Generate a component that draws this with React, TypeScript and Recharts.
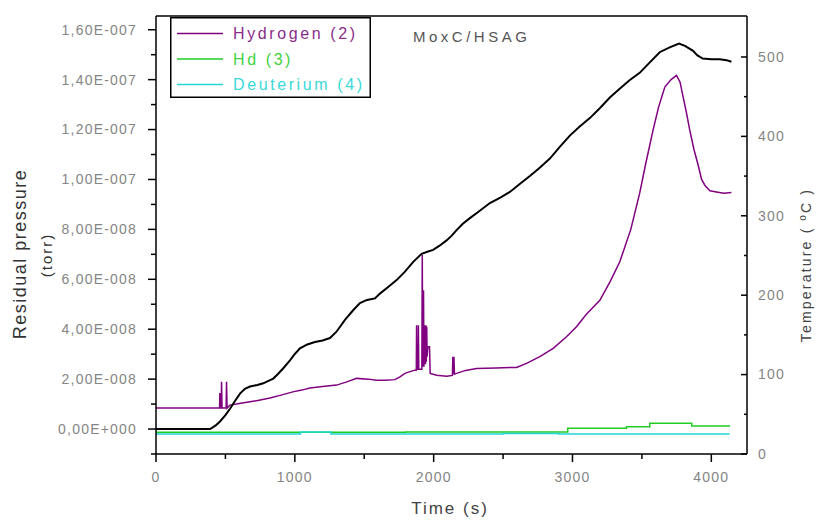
import React from 'react'
import {LineChart, Line, XAxis, YAxis, Legend, ReferenceLine} from 'recharts'

const FONT = '"Liberation Sans", Arial, sans-serif'

// temperature (ºC) -> right axis
const tempTime = [
  0, 200, 390, 430, 461, 500, 533, 570, 605, 640, 677, 730, 773, 810, 845, 880, 917, 965, 1000, 1037, 1090, 1145,
  1200, 1253, 1300, 1361, 1420, 1469, 1520, 1577, 1613, 1670, 1733, 1790, 1853, 1913, 1960, 1996, 2040, 2093, 2130,
  2165, 2210, 2261, 2330, 2405, 2480, 2549, 2620, 2693, 2760, 2837, 2910, 2981, 3050, 3125, 3200, 3269, 3340, 3413,
  3484, 3550, 3628, 3700, 3767, 3810, 3866, 3900, 3938, 4000, 4060, 4110, 4145,
]
const tempValue = [
  31.5, 31.5, 31.5, 36, 41, 49, 57, 67, 76, 82, 85, 87, 89, 92, 95, 101, 108, 118, 126, 133, 138, 141, 143, 146, 154,
  169, 181, 190, 194, 196, 202, 210, 219, 229, 242, 252, 255, 257, 262, 269, 275, 282, 290, 297, 306, 316, 323, 330,
  340, 350, 360, 372, 387, 401, 412, 423, 436, 449, 460, 471, 480, 492, 506, 512, 517, 514, 508, 502, 498, 497, 497,
  496, 494,
]

// Hydrogen (2), torr
const h2Time = [
  0, 440, 458, 460, 463, 470, 472, 476, 505, 508, 512, 533, 600, 677, 750, 821, 900, 986, 1050, 1109, 1200, 1301, 1380,
  1445, 1530, 1589, 1650, 1721, 1760, 1793, 1830, 1865, 1875, 1877, 1880, 1888, 1890, 1893, 1915, 1918, 1921, 1927,
  1930, 1934, 1936, 1939, 1941, 1944, 1947, 1950, 1953, 1958, 1970, 1975, 2021, 2093, 2135, 2138, 2142, 2146, 2150,
  2165, 2230, 2309, 2450, 2597, 2669, 2765, 2861, 2957, 3029, 3100, 3197, 3270, 3340, 3420, 3484, 3530, 3580, 3620,
  3665, 3710, 3749, 3775, 3797, 3820, 3845, 3875, 3904, 3930, 3953, 3990, 4037, 4090, 4145,
]
const h2Value = [
  0.84e-8, 0.84e-8, 0.84e-8, 1.44e-8, 0.84e-8, 0.84e-8, 1.89e-8, 0.84e-8, 0.84e-8, 1.89e-8, 0.84e-8, 0.96e-8, 1.02e-8,
  1.09e-8, 1.16e-8, 1.24e-8, 1.36e-8, 1.49e-8, 1.56e-8, 1.64e-8, 1.7e-8, 1.76e-8, 1.9e-8, 2.03e-8, 2.0e-8, 1.96e-8,
  1.96e-8, 1.98e-8, 2.1e-8, 2.23e-8, 2.3e-8, 2.36e-8, 2.36e-8, 4.16e-8, 2.4e-8, 2.4e-8, 4.16e-8, 2.4e-8, 2.4e-8,
  6.97e-8, 2.5e-8, 5.56e-8, 2.5e-8, 4.16e-8, 2.6e-8, 4.16e-8, 2.6e-8, 4.16e-8, 2.7e-8, 4.1e-8, 2.9e-8, 3.3e-8, 3.3e-8,
  2.23e-8, 2.16e-8, 2.12e-8, 2.15e-8, 2.9e-8, 2.2e-8, 2.9e-8, 2.2e-8, 2.23e-8, 2.35e-8, 2.43e-8, 2.45e-8, 2.47e-8,
  2.63e-8, 2.9e-8, 3.23e-8, 3.7e-8, 4.1e-8, 4.6e-8, 5.16e-8, 5.9e-8, 6.69e-8, 8.0e-8, 9.45e-8, 10.7e-8, 11.97e-8,
  12.9e-8, 13.7e-8, 14.0e-8, 14.17e-8, 13.9e-8, 13.3e-8, 12.7e-8, 11.97e-8, 11.2e-8, 10.6e-8, 10.0e-8, 9.77e-8,
  9.55e-8, 9.5e-8, 9.45e-8, 9.48e-8,
]

// Hd (3), torr (steps)
const hdTime = [0, 1000, 1800, 2966, 3389, 3557, 3859, 4135]
const hdValue = [-0.13e-8, -0.13e-8, -0.12e-8, 0.03e-8, 0.09e-8, 0.23e-8, 0.12e-8, 0.12e-8]

// Deuterium (4), torr (steps)
const d2Time = [0, 1040, 1260, 2500, 2900, 4132]
const d2Value = [-0.2e-8, -0.12e-8, -0.2e-8, -0.18e-8, -0.2e-8, -0.2e-8]

const timeTicks = [0, 500, 1000, 1500, 2000, 2500, 3000, 3500, 4000]
const pressureTicks = [
  -1e-8, 0, 1e-8, 2e-8, 3e-8, 4e-8, 5e-8, 6e-8, 7e-8, 8e-8, 9e-8, 1e-7, 1.1e-7, 1.2e-7, 1.3e-7, 1.4e-7, 1.5e-7, 1.6e-7,
]
const tempTicks = [0, 50, 100, 150, 200, 250, 300, 350, 400, 450, 500]

const legendOrder = ['Hydrogen (2)', 'Hd (3)', 'Deuterium (4)']

const COLORS = {hydrogen: '#800080', hd: '#22cc22', deuterium: '#22d6d6', temp: '#000000'}
const TEXT_COLORS: Record<string, string> = {'Hydrogen (2)': '#8a2c8a', 'Hd (3)': '#3fd23f', 'Deuterium (4)': '#3ad8d8'}

const toPoints = (ts: number[], vs: number[]) => ts.map((t, i) => ({t, v: vs[i]}))
const tempData = toPoints(tempTime, tempValue)
const h2Data = toPoints(h2Time, h2Value)
const hdData = toPoints(hdTime, hdValue)
const d2Data = toPoints(d2Time, d2Value)

const formatSci = (v: number) => {
  if (v === 0) return '0,00E+000'
  const e = Math.floor(Math.log10(Math.abs(v)) + 1e-9)
  const m = v / Math.pow(10, e)
  return m.toFixed(2).replace('.', ',') + 'E' + (e < 0 ? '-' : '+') + String(Math.abs(e)).padStart(3, '0')
}

const tickText = {fontFamily: FONT, fontSize: 14, fill: '#858585', letterSpacing: 1.2}

const LeftTick = ({x, y, payload}: any) => {
  const v = payload.value
  const major = Math.round(v * 1e8) % 2 === 0
  return (
    <g>
      <line x1={x - (major ? 8 : 5)} x2={x} y1={y} y2={y} stroke="#000" strokeWidth={1.5} />
      {major && (
        <text x={x - 19} y={y} dy="0.35em" textAnchor="end" style={tickText}>
          {formatSci(v)}
        </text>
      )}
    </g>
  )
}

const RightTick = ({x, y, payload}: any) => {
  const v = payload.value
  const major = v % 100 === 0
  return (
    <g>
      <line x1={x - (major ? 6 : 3)} x2={x} y1={y} y2={y} stroke="#000" strokeWidth={1.5} />
      {major && (
        <text x={x + 11} y={y} dy="0.35em" textAnchor="start" style={tickText}>
          {v}
        </text>
      )}
    </g>
  )
}

const BottomTick = ({x, y, payload}: any) => {
  const v = payload.value
  const major = v % 1000 === 0
  return (
    <g>
      <line x1={x} x2={x} y1={y} y2={y + (major ? 8 : 5)} stroke="#000" strokeWidth={1.5} />
      {major && (
        <text x={x} y={y + 23} dy="0.35em" textAnchor="middle" style={tickText}>
          {v}
        </text>
      )}
    </g>
  )
}

const LegendBox = ({payload}: any) => {
  const items = legendOrder
    .map(name => (payload || []).find((p: any) => p.value === name))
    .filter(Boolean)
  return (
    <svg width={201} height={81} style={{display: 'block', overflow: 'visible'}}>
      <rect x={0.75} y={0.75} width={199.5} height={79.5} fill="#fff" stroke="#000" strokeWidth={1.5} />
      {items.map((p: any, i: number) => (
        <g key={p.value}>
          <line x1={7} x2={53} y1={16.5 + i * 25.5} y2={16.5 + i * 25.5} stroke={p.color} strokeWidth={1.5} />
          <text
            x={63}
            y={16.5 + i * 25.5}
            dy="0.35em"
            style={{fontFamily: FONT, fontSize: 16, letterSpacing: 2.6, fill: TEXT_COLORS[p.value] || p.color}}
          >
            {p.value}
          </text>
        </g>
      ))}
    </svg>
  )
}

export default function App() {
  return (
    <div style={{position: 'absolute', left: 0, top: 0, width: 817, height: 523, background: '#fff'}}>
      <LineChart width={817} height={523} margin={{top: 16, right: 0, bottom: 0, left: 0}}>
        <XAxis
          dataKey="t"
          type="number"
          domain={[0, 4257]}
          ticks={timeTicks}
          interval={0}
          allowDataOverflow
          height={69}
          tickSize={0}
          tickMargin={0}
          tickLine={false}
          axisLine={{stroke: '#000', strokeWidth: 1.5}}
          tick={<BottomTick />}
        />
        <YAxis
          yAxisId="p"
          orientation="left"
          type="number"
          domain={[-1e-8, 1.655e-7]}
          ticks={pressureTicks}
          interval={0}
          allowDataOverflow
          width={156}
          tickSize={0}
          tickMargin={0}
          tickLine={false}
          axisLine={{stroke: '#000', strokeWidth: 1.5}}
          tick={<LeftTick />}
        />
        <YAxis
          yAxisId="t"
          orientation="right"
          type="number"
          domain={[0, 551.6]}
          ticks={tempTicks}
          interval={0}
          allowDataOverflow
          width={70}
          tickSize={0}
          tickMargin={0}
          tickLine={false}
          axisLine={{stroke: '#000', strokeWidth: 1.5}}
          tick={<RightTick />}
        />
        <ReferenceLine yAxisId="p" y={1.655e-7} stroke="#000" strokeWidth={1.5} ifOverflow="visible" />
        <Legend
          layout="vertical"
          align="center"
          verticalAlign="middle"
          wrapperStyle={{left: 170, top: 17, width: 201, height: 81}}
          content={<LegendBox />}
        />
        <Line
          yAxisId="p"
          data={h2Data}
          dataKey="v"
          name="Hydrogen (2)"
          type="linear"
          stroke={COLORS.hydrogen}
          strokeWidth={1.5}
          dot={false}
          isAnimationActive={false}
        />
        <Line
          yAxisId="p"
          data={hdData}
          dataKey="v"
          name="Hd (3)"
          type="stepAfter"
          stroke={COLORS.hd}
          strokeWidth={1.5}
          dot={false}
          isAnimationActive={false}
        />
        <Line
          yAxisId="p"
          data={d2Data}
          dataKey="v"
          name="Deuterium (4)"
          type="stepAfter"
          stroke={COLORS.deuterium}
          strokeWidth={1.5}
          dot={false}
          isAnimationActive={false}
        />
        <Line
          yAxisId="t"
          data={tempData}
          dataKey="v"
          name="Temperature"
          type="linear"
          stroke={COLORS.temp}
          strokeWidth={2}
          dot={false}
          legendType="none"
          isAnimationActive={false}
        />
        <text x={413} y={37} dy="0.35em" style={{fontFamily: FONT, fontSize: 15, fill: '#555', letterSpacing: 3.5}}>
          MoxC/HSAG
        </text>
        <text
          x={20}
          y={254}
          dy="0.35em"
          textAnchor="middle"
          transform="rotate(-90, 20, 254)"
          style={{fontFamily: FONT, fontSize: 18, fill: '#333', letterSpacing: 1.5}}
        >
          Residual pressure
        </text>
        <text
          x={47}
          y={255}
          dy="0.35em"
          textAnchor="middle"
          transform="rotate(-90, 47, 255)"
          style={{fontFamily: FONT, fontSize: 15, fill: '#333', letterSpacing: 2}}
        >
          (torr)
        </text>
        <text
          x={806}
          y={265}
          dy="0.35em"
          textAnchor="middle"
          transform="rotate(-90, 806, 265)"
          style={{fontFamily: FONT, fontSize: 14, fill: '#444', letterSpacing: 2.2}}
        >
          Temperature ( ºC )
        </text>
        <text
          x={450}
          y={508}
          dy="0.35em"
          textAnchor="middle"
          style={{fontFamily: FONT, fontSize: 17, fill: '#444', letterSpacing: 2}}
        >
          Time (s)
        </text>
      </LineChart>
    </div>
  )
}
